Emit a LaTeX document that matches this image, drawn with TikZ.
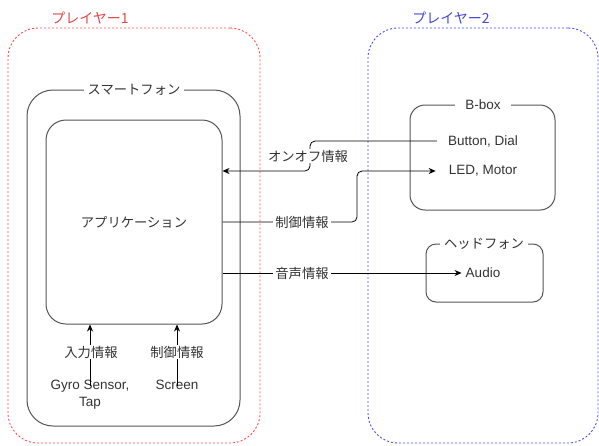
\documentclass[tikz,border=0pt]{standalone}
\usepackage{fontspec}
\setmainfont{Liberation Sans}
\newfontfamily\jp{Noto Sans CJK JP}
\usetikzlibrary{arrows.meta}
\definecolor{txt}{HTML}{333333}
\definecolor{boxc}{HTML}{555555}
\definecolor{redd}{HTML}{FF4D4D}
\definecolor{redt}{HTML}{E04848}
\definecolor{blued}{HTML}{4D4DFF}
\definecolor{bluet}{HTML}{4848D8}
\begin{document}
\begin{tikzpicture}[x=1pt,y=-1pt,
  font=\fontsize{13.5}{17}\selectfont,
  grp/.style={draw, line width=0.9pt, dash pattern=on 2pt off 2pt, rounded corners=30pt, minimum width=#1, inner sep=0},
  box/.style={draw=boxc, line width=1pt, inner sep=0},
  ttl/.style={fill=white, text=txt, inner xsep=4pt, inner ysep=1pt, font=\jp\fontsize{13.3}{15}\selectfont},
  lbl/.style={fill=white, text=txt, inner xsep=2pt, inner ysep=1pt, font=\jp\fontsize{13.3}{15}\selectfont},
  tx/.style={text=txt, align=center},
  conn/.style={draw=black, line width=0.8pt},
  arr/.style={-{Stealth[length=7pt,width=6pt]}}]
\useasboundingbox (0,0) rectangle (599,445);
% groups
\node[grp=252pt, draw=redd, minimum height=415pt] (p1) at (134,235.5) {};
\node[grp=230pt, draw=blued, minimum height=415pt] (p2) at (483,235.5) {};
\node[font=\jp\fontsize{14}{15}\selectfont, text=redt] (p1t) at (90,18) {プレイヤー1};
\node[font=\jp\fontsize{14}{15}\selectfont, text=bluet] (p2t) at (451,18) {プレイヤー2};
% smartphone
\node[box, rounded corners=26pt, minimum width=213pt, minimum height=336pt] (phone) at (133.5,258) {};
\node[ttl] (phonet) at (134,90) {スマートフォン};
\node[box, rounded corners=20pt, minimum width=176pt, minimum height=204pt] (app) at (134,222) {};
\node[tx, font=\jp\fontsize{13.3}{15}\selectfont] (appt) at (134,222) {アプリケーション};
% B-box
\node[box, rounded corners=15pt, minimum width=145pt, minimum height=105pt] (bbox) at (482.5,157.5) {};
\node[ttl, inner xsep=10pt, font=\fontsize{13.5}{15}\selectfont] (bboxt) at (483,105) {B-box};
\node[tx, inner xsep=11pt] (btn) at (483,141) {Button, Dial};
\node[tx, inner xsep=13pt] (led) at (483,171) {LED, Motor};
% headphone
\node[box, rounded corners=10pt, minimum width=117pt, minimum height=58pt] (hp) at (484.5,273) {};
\node[ttl] (hpt) at (484,244) {ヘッドフォン};
\node[tx, inner xsep=4pt] (audio) at (483,273) {Audio};
% inputs
\node[tx, anchor=north, inner sep=0pt] (gyro) at (90,380) {Gyro Sensor,\\Tap};
\node[tx, anchor=north, inner sep=0pt] (screen) at (177,380) {Screen};
% connectors
\draw[conn, arr, rounded corners=5pt] (btn.west) -- (310,141) -- (310,171) -- (app.east |- led);
\node[lbl] (l1) at (308,156) {オンオフ情報};
\draw[conn, arr, rounded corners=5pt] (app.east |- 0,222) -- (357,222) -- (357,171) -- (led.west);
\node[lbl] (l2) at (302,222) {制御情報};
\draw[conn, arr] ([yshift=-6pt]gyro.north) -- (gyro.north |- app.south);
\node[lbl] (l4) at (91,352) {入力情報};
\draw[conn, arr] ([yshift=-6pt]screen.north) -- (screen.north |- app.south);
\node[lbl] (l5) at (177,352) {制御情報};
\draw[conn, arr] (app.east |- audio) -- (audio.west);
\node[lbl] (l3) at (302,273) {音声情報};
\end{tikzpicture}
\end{document}
